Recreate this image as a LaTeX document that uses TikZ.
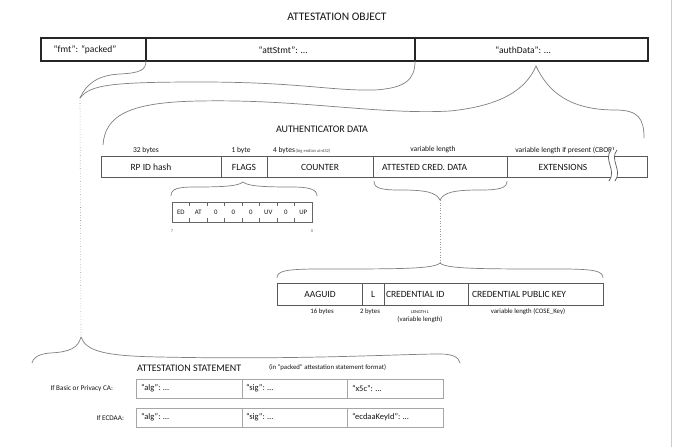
\documentclass[tikz,border=0pt]{standalone}
\usepackage{fontspec}
\setmainfont{Carlito}
\newcommand{\fTitle}{\fontsize{11.5}{13}\selectfont}
\newcommand{\fBig}{\fontsize{10}{12}\selectfont}
\newcommand{\fBox}{\fontsize{9.5}{11}\selectfont}
\newcommand{\fSm}{\fontsize{7.5}{9}\selectfont}
\newcommand{\fVal}{\fontsize{8.5}{10}\selectfont}
\newcommand{\fXs}{\fontsize{6.8}{8}\selectfont}
\newcommand{\fTiny}{\fontsize{4.5}{5}\selectfont}
\begin{document}
\begin{tikzpicture}[x=1pt,y=-1pt,
  box/.style={draw, inner sep=0pt, outer sep=0pt, anchor=north west},
  obox/.style={box, draw=black!85, line width=1.1pt},
  abox/.style={box, draw=black!65, line width=0.8pt},
  sbox/.style={box, draw=black!35, line width=0.8pt},
  lbl/.style={inner sep=0pt, outer sep=0pt, text=black!92},
  brace/.style={draw=black!50, line width=0.7pt},
  dots/.style={draw=black!40, line width=0.6pt, dotted},
  tick/.style={draw=black!60, line width=0.5pt}]
\useasboundingbox (0,0) rectangle (677,447);
\fill[white] (0,0) rectangle (677,447);
\draw[black!20, line width=1.5pt] (671.5,0) -- (671.5,447);

% ---------- title & top box
\node[lbl, font=\fTitle] (title) at (337,17) {ATTESTATION OBJECT};
\node[obox, minimum width=105pt, minimum height=23pt] (fmt) at (41,38) {};
\node[obox, minimum width=269pt, minimum height=23pt] (att) at (146,38) {};
\node[obox, minimum width=233pt, minimum height=23pt] (auth) at (415,38) {};
\node[lbl, font=\fBox] (fmtT) at (85,50) {“fmt”: “packed”};
\node[lbl, font=\fBox] (attT) at (283,50) {“attStmt”: …};
\node[lbl, font=\fBox] (authT) at (523,50) {“authData”: …};

% ---------- brace from attStmt to the left tip
\coordinate (tipA) at (80,98);
\coordinate (tipB) at (81,337);
\draw[brace] (fmt.south east) .. controls (146,70) and (140,73) .. (120,74)
   .. controls (98,75) and (86,84) .. (tipA);
\draw[brace] (tipA) .. controls (90,85) and (110,82) .. (200,82)
   .. controls (300,82) and (330,91) .. (375,90)
   .. controls (405,88) and (415,80) .. (att.south east);
\draw[dots] (tipA) -- (tipB);

% ---------- authenticator data
\node[lbl, font=\fBig] (adT) at (322,129) {AUTHENTICATOR DATA};
\coordinate (tipC) at (536,66);
\coordinate (adL) at (103,145);
\coordinate (adR) at (644,138);
\draw[brace] (adL) .. controls (105,115) and (130,102) .. (200,101)
   .. controls (300,99) and (380,115) .. (450,111)
   .. controls (500,106) and (526,90) .. (tipC)
   .. controls (548,92) and (570,110) .. (615,110)
   .. controls (638,110) and (644,118) .. (adR);

\node[abox, minimum width=120pt, minimum height=21pt] (rp) at (101,156) {};
\node[abox, minimum width=46pt, minimum height=21pt] (flags) at (221,156) {};
\node[abox, minimum width=106pt, minimum height=21pt] (counter) at (267,156) {};
\node[abox, minimum width=134pt, minimum height=21pt] (acd) at (373,156) {};
\node[abox, minimum width=140pt, minimum height=21pt] (ext) at (507,156) {};
\node[lbl, font=\fBox] (rpT) at (151,167) {RP ID hash};
\node[lbl, font=\fBox] (flagsT) at (244,167) {FLAGS};
\node[lbl, font=\fBox] (counterT) at (320,167) {COUNTER};
\node[lbl, font=\fBox, anchor=west] (acdT) at (382,167) {ATTESTED CRED. DATA};
\node[lbl, font=\fBox] (extT) at (563,167) {EXTENSIONS};

\node[lbl, font=\fSm] (b32) at (146,150) {32 bytes};
\node[lbl, font=\fSm] (b1) at (241,150) {1 byte};
\node[lbl, font=\fSm, anchor=base west] (b4) at (273,152.5) {4 bytes};
\node[lbl, font=\fTiny, anchor=base west, text=black!70] (b4x) at (b4.base east) {\,(big endian uint32)};
\node[lbl, font=\fSm] (bvar) at (433,150) {variable length};
\node[lbl, font=\fSm] (bext) at (565,150) {variable length if present (CBOR)};

% break mark
\fill[white] (611,150) .. controls (603,160) and (617,170) .. (609,181) -- (615,181)
   .. controls (623,170) and (609,160) .. (617,150) -- cycle;
\draw[black!65, line width=0.7pt] (611,150) .. controls (603,160) and (617,170) .. (609,181);
\draw[black!65, line width=0.7pt] (617,150) .. controls (609,160) and (623,170) .. (615,181);

% ---------- flags brace and byte
\coordinate (tipF) at (243,182);
\draw[brace] (171,196) .. controls (171,189) and (177,187) .. (195,187)
   .. controls (225,187) and (238,186) .. (tipF)
   .. controls (248,186) and (261,187) .. (291,187)
   .. controls (309,187) and (317,189) .. (317,196);
\node[box, draw=black!60, line width=0.7pt, minimum width=140pt, minimum height=20pt] (fbyte) at (172,202) {};
\foreach \i in {1,...,7}{
  \draw[tick] ([xshift=17.5*\i pt]fbyte.north west) -- ++(0,4);
  \draw[tick] ([xshift=17.5*\i pt]fbyte.south west) -- ++(0,-4);
}
\foreach \t [count=\i] in {ED,AT,0,0,0,UV,0,UP}{
  \node[lbl, font=\fXs] (fl\i) at (172+17.5*\i-8.75,212) {\t};
}
\node[lbl, font=\fTiny, text=black!55] (bit7) at (172,231) {7};
\node[lbl, font=\fTiny, text=black!55] (bit0) at (312,231) {0};

% ---------- attested credential data brace and dotted line
\coordinate (tipD) at (440,200);
\coordinate (tipE) at (440,263);
\draw[brace] (374,181) .. controls (374,188) and (380,190) .. (400,190)
   .. controls (425,190) and (436,192) .. (tipD)
   .. controls (444,192) and (455,190) .. (480,190)
   .. controls (500,190) and (507,188) .. (507,181);
\draw[dots] (tipD) -- (tipE);
\draw[brace] (277,278) .. controls (277,271) and (285,269) .. (320,269)
   .. controls (400,269) and (434,269) .. (tipE)
   .. controls (446,269) and (480,269) .. (560,269)
   .. controls (595,269) and (603,271) .. (603,278);

\node[abox, minimum width=85pt, minimum height=22pt] (aaguid) at (277,283) {};
\node[abox, minimum width=22pt, minimum height=22pt] (lbox) at (362,283) {};
\node[abox, minimum width=84pt, minimum height=22pt] (cid) at (384,283) {};
\node[abox, minimum width=135pt, minimum height=22pt] (cpk) at (468,283) {};
\node[lbl, font=\fBox] (aaguidT) at (320,294) {AAGUID};
\node[lbl, font=\fBox] (lT) at (373,294) {L};
\node[lbl, font=\fBox, anchor=west] (cidT) at (386,294) {CREDENTIAL ID};
\node[lbl, font=\fBox, anchor=west] (cpkT) at (472,294) {CREDENTIAL PUBLIC KEY};
\node[lbl, font=\fXs] (b16) at (322,312) {16 bytes};
\node[lbl, font=\fXs] (b2) at (370,312) {2 bytes};
\node[lbl, font=\fXs, align=center] (blen) at (420,317) {{\fTiny LENGTH L}\\(variable length)};
\node[lbl, font=\fXs] (bcose) at (528,312) {variable length (COSE\_Key)};

% ---------- attestation statement brace
\coordinate (stL) at (32,363);
\coordinate (stR) at (460,363);
\draw[brace] (tipB) .. controls (78,348) and (70,352) .. (50,353)
   .. controls (38,354) and (33,358) .. (stL);
\draw[brace] (tipB) .. controls (86,350) and (100,356) .. (160,357)
   .. controls (300,360) and (400,354) .. (440,354)
   .. controls (452,354) and (459,357) .. (stR);

\node[lbl, font=\fBig, anchor=west] (asT) at (137,368) {ATTESTATION STATEMENT};
\node[lbl, font=\fXs, anchor=west] (asN) at (269,368) {(in "packed" attestation statement format)};

\node[lbl, font=\fontsize{7.2}{8.5}\selectfont, anchor=east] (r1L) at (113,389) {If Basic or Privacy CA:};
\node[lbl, font=\fontsize{7.2}{8.5}\selectfont, anchor=east] (r2L) at (124,418) {If ECDAA:};

\node[sbox, minimum width=106pt, minimum height=19pt] (a1) at (136,379) {};
\node[sbox, minimum width=105pt, minimum height=19pt] (s1) at (242,379) {};
\node[sbox, minimum width=96pt, minimum height=19pt] (x1) at (347,379) {};
\node[sbox, minimum width=106pt, minimum height=19pt] (a2) at (136,408) {};
\node[sbox, minimum width=105pt, minimum height=19pt] (s2) at (242,408) {};
\node[sbox, minimum width=96pt, minimum height=19pt] (x2) at (347,408) {};
\node[lbl, font=\fVal, anchor=west] (a1T) at ([xshift=5pt]a1.west) {“alg”: …};
\node[lbl, font=\fVal, anchor=west] (s1T) at ([xshift=4pt]s1.west) {“sig”: …};
\node[lbl, font=\fVal, anchor=west] (x1T) at ([xshift=5pt]x1.west) {“x5c”: …};
\node[lbl, font=\fVal, anchor=west] (a2T) at ([xshift=5pt]a2.west) {“alg”: …};
\node[lbl, font=\fVal, anchor=west] (s2T) at ([xshift=4pt]s2.west) {“sig”: …};
\node[lbl, font=\fVal, anchor=west] (x2T) at ([xshift=5pt]x2.west) {“ecdaaKeyId”: …};
\end{tikzpicture}
\end{document}
